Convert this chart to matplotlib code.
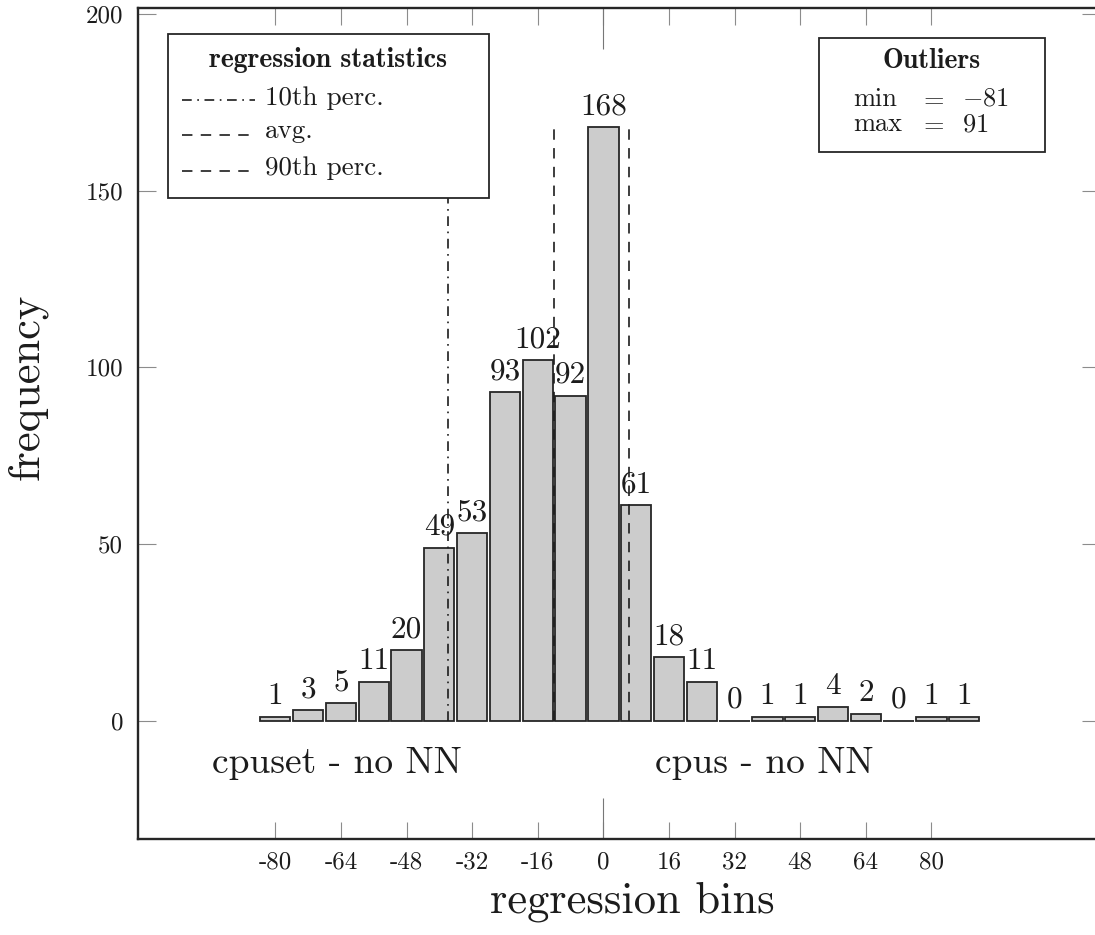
import matplotlib
matplotlib.use('Agg')
import matplotlib.pyplot as plt
from matplotlib.patches import Rectangle
from matplotlib.lines import Line2D

plt.rcParams['font.family'] = 'cmr10'
plt.rcParams['mathtext.fontset'] = 'cm'
plt.rcParams['axes.unicode_minus'] = False
plt.rcParams['axes.formatter.use_mathtext'] = True
plt.rcParams['lines.scale_dashes'] = False

### data
bin_centers = [-80, -72, -64, -56, -48, -40, -32, -24, -16, -8, 0,
               8, 16, 24, 32, 40, 48, 56, 64, 72, 80, 88]
counts = [1, 3, 5, 11, 20, 49, 53, 93, 102, 92, 168,
          61, 18, 11, 0, 1, 1, 4, 2, 0, 1, 1]
xticks = [-80, -64, -48, -32, -16, 0, 16, 32, 48, 64, 80]
yticks = [0, 50, 100, 150, 200]
perc10 = -37.8
avg = -12.0
perc90 = 6.2
outlier_min = -81
outlier_max = 91

W, H = 1095, 935
def fx(px):
    return px / W
def fy(py):
    return 1 - py / H

dashed = (0, (7.5, 6.0))
dashdot = (0, (7.0, 4.0, 1.2, 4.0))
ink = '#1c1c1c'

fig = plt.figure(figsize=(W / 100, H / 100), dpi=100)
ax = fig.add_axes([fx(138.3), fy(839), (1100 - 138.3) / W, (839 - 8) / H])
ax.set_xlim(-113.4, 121.1)
ax.set_ylim(-33.5, 201.7)

bars = ax.bar(bin_centers, counts, width=7.4, color='#cccccc',
              edgecolor='#262626', linewidth=1.3, zorder=2)
ax.bar_label(bars, labels=[str(c) for c in counts], padding=5,
             fontsize=22.5, color=ink)

top = max(counts)
ax.plot([perc10, perc10], [0, top], color=ink, lw=1.2, linestyle=dashdot, zorder=3)
ax.plot([avg, avg], [0, top], color=ink, lw=1.2, linestyle=dashed, zorder=3)
ax.plot([perc90, perc90], [0, top], color=ink, lw=1.2, linestyle=dashed, zorder=3)

ax.text(-95.5, -14.8, 'cpuset - no NN', fontsize=27, ha='left', va='baseline', color=ink)
ax.text(12.6, -14.8, 'cpus - no NN', fontsize=27, ha='left', va='baseline', color=ink)

ax.set_xticks(xticks)
ax.set_xticklabels([str(t) for t in xticks])
ax.set_yticks(yticks)
ax.set_yticklabels([str(t) for t in yticks])
ax.set_xticks([0], minor=True)
ax.xaxis.remove_overlapping_locs = False
ax.tick_params(axis='x', which='major', direction='in', top=True, bottom=True,
               length=12.5, width=0.8, color='#8c8c8c', labelsize=18,
               labelcolor=ink, pad=9)
ax.tick_params(axis='x', which='minor', direction='in', top=True, bottom=True,
               length=29.5, width=0.8, color='#777777')
ax.tick_params(axis='y', which='major', direction='in', left=True, right=True,
               length=13, width=0.8, color='#8c8c8c', labelsize=18,
               labelcolor=ink, pad=11)

for side in ['left', 'top', 'bottom']:
    ax.spines[side].set_linewidth(1.7)
    ax.spines[side].set_color('#262626')
ax.spines['right'].set_visible(False)

ax.set_xlabel('regression bins', fontsize=32, color=ink)
ax.set_ylabel('frequency', fontsize=32, color=ink)
ax.xaxis.set_label_coords((632 - 138.3) / (1100 - 138.3), (839 - 902) / 831)
ax.xaxis.label.set_va('center')
ax.yaxis.set_label_coords((27 - 138.3) / (1100 - 138.3), (839 - 387) / 831)
ax.yaxis.label.set_va('center')

# legend box, drawn by hand
fig.add_artist(Rectangle((fx(167.7), fy(197.7)), (489 - 167.7) / W, (197.7 - 34) / H,
                         transform=fig.transFigure, facecolor='white',
                         edgecolor='#262626', lw=1.3, zorder=5))
fig.text(fx(328.5), fy(66.7), 'regression statistics', fontfamily='cmb10',
         fontsize=20, ha='center', va='baseline', color=ink, zorder=6)
leg_rows = [('10th perc.', dashdot, 100, 105),
            ('avg.', dashed, 135, 138),
            ('90th perc.', dashed, 171, 175)]
for lab, ls, ly, base in leg_rows:
    fig.add_artist(Line2D([fx(182), fx(255)], [fy(ly), fy(ly)], transform=fig.transFigure,
                          color=ink, lw=1.2, linestyle=ls, zorder=6))
    fig.text(fx(265), fy(base), lab, fontsize=19.5, ha='left', va='baseline',
             color=ink, zorder=6)

# outliers box
fig.add_artist(Rectangle((fx(819), fy(152)), (1045 - 819) / W, (152 - 38.3) / H,
                         transform=fig.transFigure, facecolor='white',
                         edgecolor='#262626', lw=1.3, zorder=5))
fig.text(fx(931.7), fy(68.3), 'Outliers', fontfamily='cmb10', fontsize=20,
         ha='center', va='baseline', color=ink, zorder=6)
for name, val, base in [('min', outlier_min, 106), ('max', outlier_max, 131)]:
    fig.text(fx(853), fy(base), name, fontsize=19, ha='left', va='baseline', color=ink, zorder=6)
    fig.text(fx(931.5), fy(base), '$=$', fontsize=19, ha='center', va='baseline', color=ink, zorder=6)
    fig.text(fx(962), fy(base), '$%d$' % val, fontsize=19, ha='left', va='baseline', color=ink, zorder=6)

fig.savefig('out.png', dpi=100)
